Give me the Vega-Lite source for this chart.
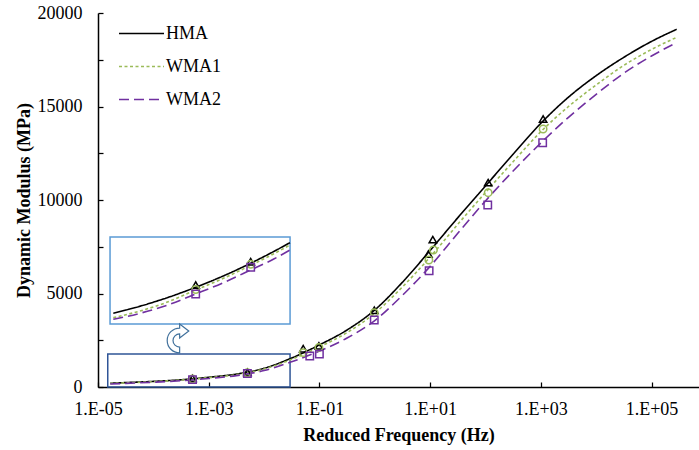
{
  "$schema": "https://vega.github.io/schema/vega-lite/v6.json",
  "autosize": "none",
  "width": 601,
  "height": 374,
  "padding": {"left": 98, "top": 13, "right": 0, "bottom": 63},
  "background": "white",
  "config": {
    "view": {"stroke": null},
    "font": "Liberation Serif",
    "axis": {
      "labelFont": "Liberation Serif",
      "labelFontSize": 18,
      "labelColor": "#000000",
      "titleFont": "Liberation Serif",
      "titleFontSize": 18,
      "titleFontWeight": "bold",
      "titleColor": "#000000",
      "domainColor": "#000000",
      "domainWidth": 1.5,
      "tickColor": "#000000",
      "tickWidth": 1.25,
      "tickSize": -5,
      "grid": false,
      "labelFlush": false,
      "labelOverlap": false,
      "labelBound": false
    },
    "legend": {
      "labelFont": "Liberation Serif",
      "labelFontSize": 18,
      "labelColor": "#000000"
    }
  },
  "datasets": {
    "curves": [
      {"s": "HMA", "f": 1.66e-5, "v": 200},
      {"s": "HMA", "f": 3.16e-5, "v": 235},
      {"s": "HMA", "f": 1e-4, "v": 300},
      {"s": "HMA", "f": 3.16e-4, "v": 385},
      {"s": "HMA", "f": 1e-3, "v": 520},
      {"s": "HMA", "f": 3.16e-3, "v": 690},
      {"s": "HMA", "f": 1e-2, "v": 1000},
      {"s": "HMA", "f": 3.16e-2, "v": 1550},
      {"s": "HMA", "f": 0.1, "v": 2250},
      {"s": "HMA", "f": 0.316, "v": 3050},
      {"s": "HMA", "f": 1, "v": 4120},
      {"s": "HMA", "f": 3.16, "v": 5600},
      {"s": "HMA", "f": 10, "v": 7300},
      {"s": "HMA", "f": 31.6, "v": 9050},
      {"s": "HMA", "f": 100, "v": 10750},
      {"s": "HMA", "f": 316, "v": 12450},
      {"s": "HMA", "f": 1000, "v": 14100},
      {"s": "HMA", "f": 3162, "v": 15500},
      {"s": "HMA", "f": 10000, "v": 16650},
      {"s": "HMA", "f": 31623, "v": 17630},
      {"s": "HMA", "f": 100000, "v": 18480},
      {"s": "HMA", "f": 285000, "v": 19130},
      {"s": "WMA1", "f": 1.66e-5, "v": 190},
      {"s": "WMA1", "f": 3.16e-5, "v": 222},
      {"s": "WMA1", "f": 1e-4, "v": 285},
      {"s": "WMA1", "f": 3.16e-4, "v": 370},
      {"s": "WMA1", "f": 1e-3, "v": 500},
      {"s": "WMA1", "f": 3.16e-3, "v": 660},
      {"s": "WMA1", "f": 1e-2, "v": 960},
      {"s": "WMA1", "f": 3.16e-2, "v": 1480},
      {"s": "WMA1", "f": 0.1, "v": 2140},
      {"s": "WMA1", "f": 0.316, "v": 2910},
      {"s": "WMA1", "f": 1, "v": 3950},
      {"s": "WMA1", "f": 3.16, "v": 5350},
      {"s": "WMA1", "f": 10, "v": 6950},
      {"s": "WMA1", "f": 31.6, "v": 8700},
      {"s": "WMA1", "f": 100, "v": 10400},
      {"s": "WMA1", "f": 316, "v": 12050},
      {"s": "WMA1", "f": 1000, "v": 13650},
      {"s": "WMA1", "f": 3162, "v": 15000},
      {"s": "WMA1", "f": 10000, "v": 16150},
      {"s": "WMA1", "f": 31623, "v": 17200},
      {"s": "WMA1", "f": 100000, "v": 18050},
      {"s": "WMA1", "f": 285000, "v": 18700},
      {"s": "WMA2", "f": 1.66e-5, "v": 160},
      {"s": "WMA2", "f": 3.16e-5, "v": 195},
      {"s": "WMA2", "f": 1e-4, "v": 255},
      {"s": "WMA2", "f": 3.16e-4, "v": 335},
      {"s": "WMA2", "f": 1e-3, "v": 455},
      {"s": "WMA2", "f": 3.16e-3, "v": 610},
      {"s": "WMA2", "f": 1e-2, "v": 880},
      {"s": "WMA2", "f": 3.16e-2, "v": 1350},
      {"s": "WMA2", "f": 0.1, "v": 1920},
      {"s": "WMA2", "f": 0.316, "v": 2620},
      {"s": "WMA2", "f": 1, "v": 3550},
      {"s": "WMA2", "f": 3.16, "v": 4900},
      {"s": "WMA2", "f": 10, "v": 6450},
      {"s": "WMA2", "f": 31.6, "v": 8220},
      {"s": "WMA2", "f": 100, "v": 9950},
      {"s": "WMA2", "f": 316, "v": 11550},
      {"s": "WMA2", "f": 1000, "v": 13050},
      {"s": "WMA2", "f": 3162, "v": 14420},
      {"s": "WMA2", "f": 10000, "v": 15650},
      {"s": "WMA2", "f": 31623, "v": 16780},
      {"s": "WMA2", "f": 100000, "v": 17700},
      {"s": "WMA2", "f": 285000, "v": 18420}
    ],
    "markers": [
      {"m": "HMA", "f": 5.1e-4, "v": 460},
      {"m": "HMA", "f": 5.0e-3, "v": 790},
      {"m": "HMA", "f": 0.051, "v": 2050},
      {"m": "HMA", "f": 0.098, "v": 2200},
      {"m": "HMA", "f": 0.98, "v": 4100},
      {"m": "HMA", "f": 9.3, "v": 7110},
      {"m": "HMA", "f": 11.2, "v": 7880},
      {"m": "HMA", "f": 112, "v": 10930},
      {"m": "HMA", "f": 1100, "v": 14330},
      {"m": "WMA1", "f": 5.1e-4, "v": 430},
      {"m": "WMA1", "f": 5.0e-3, "v": 765},
      {"m": "WMA1", "f": 0.051, "v": 1836},
      {"m": "WMA1", "f": 0.098, "v": 2121},
      {"m": "WMA1", "f": 0.98, "v": 3973},
      {"m": "WMA1", "f": 9.5, "v": 6791},
      {"m": "WMA1", "f": 11.5, "v": 7326},
      {"m": "WMA1", "f": 112, "v": 10390},
      {"m": "WMA1", "f": 1100, "v": 13797},
      {"m": "WMA2", "f": 5.1e-4, "v": 395},
      {"m": "WMA2", "f": 5.0e-3, "v": 720},
      {"m": "WMA2", "f": 0.067, "v": 1658},
      {"m": "WMA2", "f": 0.1, "v": 1760},
      {"m": "WMA2", "f": 0.98, "v": 3583},
      {"m": "WMA2", "f": 9.6, "v": 6220},
      {"m": "WMA2", "f": 110, "v": 9733},
      {"m": "WMA2", "f": 1080, "v": 13065}
    ],
    "insetCurves": [
      {"s": "HMA", "f": 1.89e-5, "v": 217},
      {"s": "HMA", "f": 5.74e-5, "v": 361},
      {"s": "HMA", "f": 1.74e-4, "v": 530},
      {"s": "HMA", "f": 5.82e-4, "v": 745},
      {"s": "HMA", "f": 1.84e-3, "v": 976},
      {"s": "HMA", "f": 5.74e-3, "v": 1233},
      {"s": "HMA", "f": 1.47e-2, "v": 1467},
      {"s": "HMA", "f": 2.94e-2, "v": 1650},
      {"s": "WMA1", "f": 1.89e-5, "v": 128},
      {"s": "WMA1", "f": 5.74e-5, "v": 264},
      {"s": "WMA1", "f": 1.74e-4, "v": 440},
      {"s": "WMA1", "f": 5.82e-4, "v": 690},
      {"s": "WMA1", "f": 1.84e-3, "v": 927},
      {"s": "WMA1", "f": 5.74e-3, "v": 1191},
      {"s": "WMA1", "f": 1.47e-2, "v": 1420},
      {"s": "WMA1", "f": 2.94e-2, "v": 1603},
      {"s": "WMA2", "f": 1.89e-5, "v": 95},
      {"s": "WMA2", "f": 5.74e-5, "v": 217},
      {"s": "WMA2", "f": 1.74e-4, "v": 379},
      {"s": "WMA2", "f": 5.82e-4, "v": 609},
      {"s": "WMA2", "f": 1.84e-3, "v": 838},
      {"s": "WMA2", "f": 5.74e-3, "v": 1096},
      {"s": "WMA2", "f": 1.47e-2, "v": 1313},
      {"s": "WMA2", "f": 2.94e-2, "v": 1501}
    ],
    "insetMarkers": [
      {"m": "HMA", "f": 5.82e-4, "v": 790},
      {"m": "HMA", "f": 5.74e-3, "v": 1264},
      {"m": "WMA1", "f": 5.82e-4, "v": 700},
      {"m": "WMA1", "f": 5.74e-3, "v": 1211},
      {"m": "WMA2", "f": 5.82e-4, "v": 609},
      {"m": "WMA2", "f": 5.74e-3, "v": 1150}
    ],
    "boxes": [
      {"box": "lower", "f1": 1.5e-5, "f2": 0.0295, "v1": 0, "v2": 1765},
      {"box": "upper", "f1": 1.65e-5, "f2": 0.0295, "v1": 3369, "v2": 8021}
    ],
    "arrow": [
      {"f": 2.6e-4, "v": 2620}
    ]
  },
  "encoding": {
    "x": {
      "field": "f",
      "type": "quantitative",
      "scale": {"type": "log", "domain": [1e-5, 721000], "nice": false},
      "axis": {
        "title": "Reduced Frequency (Hz)",
        "values": [1e-5, 1e-3, 0.1, 10, 1000, 100000],
        "labelExpr": "'1.E' + (round(log(datum.value)/LN10) < 0 ? '-' : '+') + (abs(round(log(datum.value)/LN10)) < 10 ? '0' : '') + abs(round(log(datum.value)/LN10))",
        "labelPadding": 18,
        "titlePadding": 8
      }
    }
  },
  "layer": [
    {
      "encoding": {
        "y": {
          "field": "v",
          "type": "quantitative",
          "scale": {"domain": [0, 20000], "nice": false},
          "axis": {
            "title": "Dynamic Modulus (MPa)",
            "values": [0, 2500, 5000, 7500, 10000, 12500, 15000, 17500, 20000],
            "format": "d",
            "labelExpr": "datum.value % 5000 == 0 ? datum.label : ''",
            "labelPadding": 21,
            "titlePadding": 4
          }
        }
      },
      "layer": [
        {
          "data": {"name": "boxes"},
          "transform": [{"filter": "datum.box == 'upper'"}],
          "mark": {"type": "rect", "fill": "white", "stroke": "#5B9BD5", "strokeWidth": 1.5},
          "encoding": {
            "x": {"field": "f1", "type": "quantitative"},
            "x2": {"field": "f2"},
            "y": {"field": "v1", "type": "quantitative"},
            "y2": {"field": "v2"}
          }
        },
        {
          "data": {"name": "boxes"},
          "transform": [{"filter": "datum.box == 'lower'"}],
          "mark": {"type": "rect", "fill": null, "fillOpacity": 0, "stroke": "#2F5597", "strokeWidth": 1.5},
          "encoding": {
            "x": {"field": "f1", "type": "quantitative"},
            "x2": {"field": "f2"},
            "y": {"field": "v1", "type": "quantitative"},
            "y2": {"field": "v2"}
          }
        },
        {
          "data": {"name": "arrow"},
          "mark": {
            "type": "point",
            "shape": "M 0.2 0.9 A 0.75 0.75 0 0 1 0.2 -0.6 L 0.2 -0.85 L 0.75 -0.425 L 0.2 0 L 0.2 -0.25 A 0.4 0.4 0 0 0 0.2 0.55 Z",
            "size": 1100,
            "filled": true,
            "fill": "white",
            "stroke": "#41719C",
            "strokeWidth": 1.2,
            "opacity": 1
          },
          "encoding": {}
        },
        {
          "data": {"values": [{}]},
          "mark": {"type": "rule", "color": "#000000", "strokeWidth": 1.5},
          "encoding": {"y": {"datum": 20000}, "x": null}
        },
        {
          "data": {"name": "curves"},
          "mark": {"type": "line", "interpolate": "monotone", "strokeWidth": 1.6},
          "encoding": {
            "color": {
              "field": "s",
              "type": "nominal",
              "scale": {"domain": ["HMA", "WMA1", "WMA2"], "range": ["#000000", "#9BBB59", "#7030A0"]},
              "legend": {
                "title": null,
                "orient": "none",
                "legendX": 20,
                "legendY": -3,
                "symbolType": "stroke",
                "symbolSize": 2025,
                "symbolStrokeWidth": 1.6,
                "labelOffset": 1,
                "rowPadding": -2,
                "padding": 0
              }
            },
            "strokeDash": {
              "field": "s",
              "type": "nominal",
              "scale": {"domain": ["HMA", "WMA1", "WMA2"], "range": [[1, 0], [3, 2.5], [10, 5]]}
            }
          }
        },
        {
          "data": {"name": "markers"},
          "mark": {"type": "point", "filled": false, "size": 55, "strokeWidth": 1.5, "opacity": 1},
          "encoding": {
            "stroke": {
              "field": "m",
              "type": "nominal",
              "scale": {"domain": ["WMA2", "WMA1", "HMA"], "range": ["#7030A0", "#9BBB59", "#000000"]},
              "legend": null
            },
            "shape": {
              "field": "m",
              "type": "nominal",
              "scale": {"domain": ["WMA1", "HMA", "WMA2"], "range": ["circle", "triangle-up", "square"]},
              "legend": null
            }
          }
        }
      ]
    },
    {
      "encoding": {
        "y": {
          "field": "v",
          "type": "quantitative",
          "scale": {"domain": [-1278, 6310], "nice": false, "zero": false},
          "axis": null
        }
      },
      "layer": [
        {
          "data": {"name": "insetCurves"},
          "mark": {"type": "line", "interpolate": "monotone", "strokeWidth": 1.6},
          "encoding": {
            "color": {
              "field": "s",
              "type": "nominal",
              "scale": {"domain": ["HMA", "WMA1", "WMA2"], "range": ["#000000", "#9BBB59", "#7030A0"]}
            },
            "strokeDash": {
              "field": "s",
              "type": "nominal",
              "scale": {"domain": ["HMA", "WMA1", "WMA2"], "range": [[1, 0], [3, 2.5], [10, 5]]}
            }
          }
        },
        {
          "data": {"name": "insetMarkers"},
          "mark": {"type": "point", "filled": false, "size": 55, "strokeWidth": 1.5, "opacity": 1},
          "encoding": {
            "stroke": {
              "field": "m",
              "type": "nominal",
              "scale": {"domain": ["WMA2", "WMA1", "HMA"], "range": ["#7030A0", "#9BBB59", "#000000"]},
              "legend": null
            },
            "shape": {
              "field": "m",
              "type": "nominal",
              "scale": {"domain": ["WMA1", "HMA", "WMA2"], "range": ["circle", "triangle-up", "square"]},
              "legend": null
            }
          }
        }
      ]
    }
  ],
  "resolve": {"scale": {"y": "independent"}}
}
